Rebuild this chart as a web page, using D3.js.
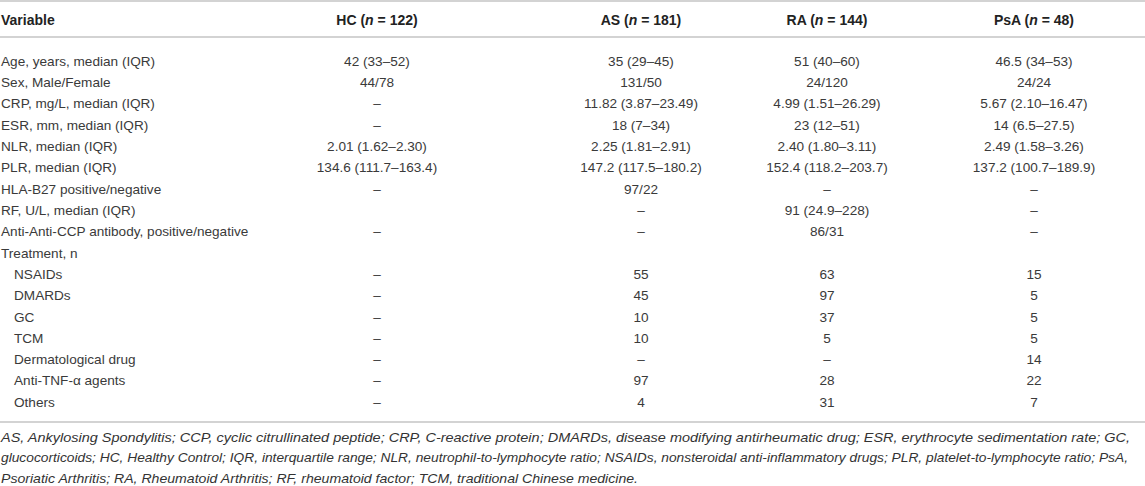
<!DOCTYPE html>
<html>
<head>
<meta charset="utf-8">
<script src="https://cdn.jsdelivr.net/npm/d3@7"></script>
<style>
    body { margin: 0; background: #fff; }
    text { font-family: "Liberation Sans", Arial, sans-serif; }
    .cell { font-size: 13.6px; fill: #3a3a3a; }
    .head { font-size: 14px; font-weight: bold; fill: #222; }
    .note { font-size: 13px; font-style: italic; fill: #333; }
</style>
</head>
<body>
<div id="chart1"></div>
<script>
// kolom dan judul
var columns = ["Variable", "HC", "AS", "RA", "PsA"];
var groupNames = ["HC", "AS", "RA", "PsA"];
var groupN = [122, 181, 144, 48];

// baris
var rowLabels = [
    "Age, years, median (IQR)",
    "Sex, Male/Female",
    "CRP, mg/L, median (IQR)",
    "ESR, mm, median (IQR)",
    "NLR, median (IQR)",
    "PLR, median (IQR)",
    "HLA-B27 positive/negative",
    "RF, U/L, median (IQR)",
    "Anti-Anti-CCP antibody, positive/negative",
    "Treatment, n",
    "NSAIDs",
    "DMARDs",
    "GC",
    "TCM",
    "Dermatological drug",
    "Anti-TNF-\u03b1 agents",
    "Others"
];
var indented = [0, 0, 0, 0, 0, 0, 0, 0, 0, 0, 1, 1, 1, 1, 1, 1, 1];

var hcValues = ["42 (33\u201352)", "44/78", "\u2013", "\u2013", "2.01 (1.62\u20132.30)", "134.6 (111.7\u2013163.4)",
    "\u2013", "", "\u2013", "", "\u2013", "\u2013", "\u2013", "\u2013", "\u2013", "\u2013", "\u2013"];
var asValues = ["35 (29\u201345)", "131/50", "11.82 (3.87\u201323.49)", "18 (7\u201334)", "2.25 (1.81\u20132.91)", "147.2 (117.5\u2013180.2)",
    "97/22", "\u2013", "\u2013", "", "55", "45", "10", "10", "\u2013", "97", "4"];
var raValues = ["51 (40\u201360)", "24/120", "4.99 (1.51\u201326.29)", "23 (12\u201351)", "2.40 (1.80\u20133.11)", "152.4 (118.2\u2013203.7)",
    "\u2013", "91 (24.9\u2013228)", "86/31", "", "63", "97", "37", "5", "\u2013", "28", "31"];
var psaValues = ["46.5 (34\u201353)", "24/24", "5.67 (2.10\u201316.47)", "14 (6.5\u201327.5)", "2.49 (1.58\u20133.26)", "137.2 (100.7\u2013189.9)",
    "\u2013", "\u2013", "\u2013", "", "15", "5", "5", "5", "14", "22", "7"];

var footnotes = [
    "AS, Ankylosing Spondylitis; CCP, cyclic citrullinated peptide; CRP, C-reactive protein; DMARDs, disease modifying antirheumatic drug; ESR, erythrocyte sedimentation rate; GC,",
    "glucocorticoids; HC, Healthy Control; IQR, interquartile range; NLR, neutrophil-to-lymphocyte ratio; NSAIDs, nonsteroidal anti-inflammatory drugs; PLR, platelet-to-lymphocyte ratio; PsA,",
    "Psoriatic Arthritis; RA, Rheumatoid Arthritis; RF, rheumatoid factor; TCM, traditional Chinese medicine."
];
// lebar tiap baris catatan di gambar asli
var footnoteWidths = [1129, 1127, 637];

var valueCols = [hcValues, asValues, raValues, psaValues];

// ukuran
var width = 1145;
var height = 486;

var svg = d3.select("#chart1").append("svg")
    .attr("width", width)
    .attr("height", height);

// skala posisi kolom dan baris
var x = d3.scaleOrdinal()
    .domain(groupNames)
    .range([377, 641, 827, 1034]);
var y = d3.scaleLinear()
    .domain([0, rowLabels.length - 1])
    .range([61, 402]);

// garis tabel
var lineColor = "#c4c4c4";
[1, 37, 422].forEach(function (ly) {
    svg.append("line")
        .attr("x1", 0).attr("x2", width)
        .attr("y1", ly).attr("y2", ly)
        .attr("stroke", lineColor)
        .attr("stroke-width", 1.5);
});

// header
var header = svg.append("g");
header.append("text")
    .attr("class", "head")
    .attr("x", 1)
    .attr("y", 20)
    .attr("dy", "0.35em")
    .text(columns[0]);

groupNames.forEach(function (g, i) {
    var t = header.append("text")
        .attr("class", "head")
        .attr("x", x(g))
        .attr("y", 20)
        .attr("dy", "0.35em")
        .attr("text-anchor", "middle");
    t.append("tspan").text(g + " (");
    t.append("tspan").style("font-style", "italic").text("n");
    t.append("tspan").text(" = " + groupN[i] + ")");
});

// label baris
svg.selectAll(".rowlabel")
    .data(rowLabels)
    .enter().append("text")
    .attr("class", "cell rowlabel")
    .attr("x", function (d, i) { return indented[i] ? 14 : 1; })
    .attr("y", function (d, i) { return y(i); })
    .attr("dy", "0.35em")
    .text(function (d) { return d; });

// nilai tiap kelompok
valueCols.forEach(function (vals, c) {
    svg.selectAll(".val" + c)
        .data(vals)
        .enter().append("text")
        .attr("class", "cell val" + c)
        .attr("x", x(groupNames[c]))
        .attr("y", function (d, i) { return y(i); })
        .attr("dy", "0.35em")
        .attr("text-anchor", "middle")
        .text(function (d) { return d; });
});

// catatan kaki
svg.selectAll(".note")
    .data(footnotes)
    .enter().append("text")
    .attr("class", "note")
    .attr("x", 1)
    .attr("y", function (d, i) { return 437 + i * 20.5; })
    .attr("dy", "0.35em")
    .attr("textLength", function (d, i) { return footnoteWidths[i]; })
    .attr("lengthAdjust", "spacingAndGlyphs")
    .text(function (d) { return d; });
</script>
</body>
</html>
